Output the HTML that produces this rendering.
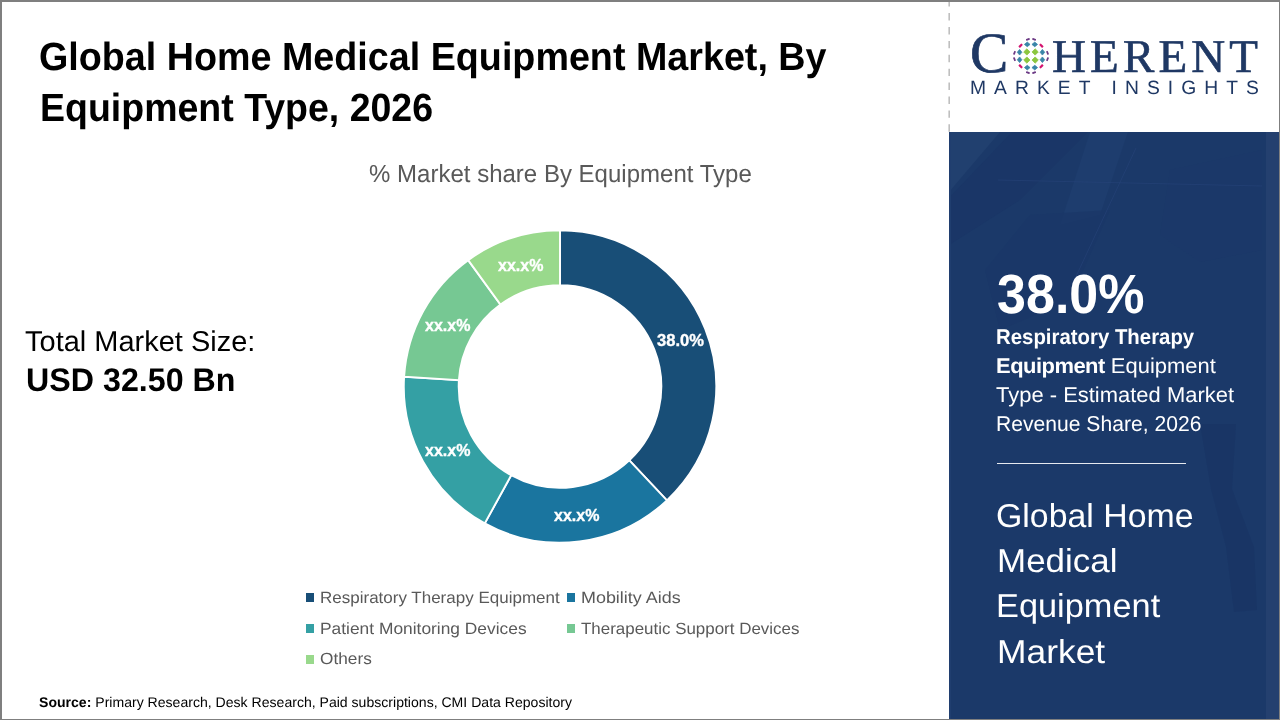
<!DOCTYPE html>
<html lang="en">
<head>
<meta charset="utf-8">
<title>Global Home Medical Equipment Market, By Equipment Type, 2026</title>
<style>
html,body{margin:0;padding:0;}
body{width:1280px;height:720px;overflow:hidden;background:#fff;position:relative;font-family:"Liberation Sans",sans-serif;}
.abs{position:absolute;white-space:nowrap;line-height:1;transform-origin:0 0;}
#frame{position:absolute;left:0;top:0;width:1280px;height:720px;box-sizing:border-box;border-left:2px solid #7f7f7f;border-top:2px solid #7f7f7f;border-bottom:1px solid #7f7f7f;border-right:1px solid #7f7f7f;z-index:20;pointer-events:none;}
#panel{position:absolute;left:949px;top:132px;width:331px;height:588px;background:#1b3969;overflow:hidden;}
.t1{font-weight:bold;color:#000;}
.ct{color:#595959;}
.lg{color:#595959;}
.mk{position:absolute;width:8px;height:8.5px;}
.dl{font-weight:bold;color:#fff;-webkit-text-stroke:0.35px #fff;}
.w{color:#fff;}
</style>
</head>
<body>
<div id="panel"><svg width="331" height="588" viewBox="949 132 331 588" style="position:absolute;left:0;top:0">
<rect x="949" y="132" width="331" height="588" fill="#1b3969"/>
<path d="M949 132L1000 132L949 192Z" fill="#21406f"/>
<path d="M1012 132L1088 132L1020 200L949 245L949 198Z" fill="#1a3667"/>
<path d="M1090 132L1128 132L1100 215L1060 225Z" fill="#1e3d6e"/>
<path d="M1030 215L1110 210L1070 300L1000 330L985 270Z" fill="#1a3768" opacity="0.8"/>
<path d="M1170 170L1262 150L1262 250L1200 262L1160 235Z" fill="#1b3869" opacity="0.8"/>
<path d="M998 180L1262 186" stroke="#27457a" stroke-width="0.8" opacity="0.7" fill="none"/>
<path d="M1136 148L1072 285" stroke="#27457a" stroke-width="0.8" opacity="0.7" fill="none"/>
<path d="M1200 424L1236 424L1232 489L1254 547L1257 610L1234 612L1226 547L1211 489Z" fill="#193565" opacity="0.85"/>
<rect x="949" y="132" width="2" height="588" fill="#203e6f"/>
<rect x="1266" y="132" width="14" height="588" fill="#24406f"/>
</svg></div>

<!-- dashed separator -->
<svg style="position:absolute;left:947px;top:0" width="4" height="133"><line x1="2.2" y1="-0.8" x2="2.2" y2="132" stroke="#bfbfbf" stroke-width="1.6" stroke-dasharray="7.4 6.5"/></svg>

<!-- Title -->
<div class="abs t1" id="t1a" style="left:39px;top:37px;transform:skewX(0.05deg) scaleX(0.9569);font-size:39.4px;">Global Home Medical Equipment Market, By</div>
<div class="abs t1" id="t1b" style="left:40px;top:88px;transform:skewX(0.05deg) scaleX(0.9517);font-size:39.4px;">Equipment Type, 2026</div>

<!-- chart title -->
<div class="abs ct" id="ct" style="left:369px;top:162px;transform:skewX(0.05deg) scaleX(0.9730);font-size:24.7px;">% Market share By Equipment Type</div>

<!-- total market size -->
<div class="abs" id="tm1" style="left:25px;top:327px;font-size:28.6px;color:#000;transform:skewX(0.05deg) scaleX(1.0136);">Total Market Size:</div>
<div class="abs" id="tm2" style="left:26px;top:364px;font-size:32.7px;font-weight:bold;color:#000;transform:skewX(0.05deg) scaleX(0.9857);">USD 32.50 Bn</div>

<!-- donut -->
<svg id="donut" style="position:absolute;left:400px;top:226px" width="320" height="320" viewBox="400 226 320 320">
<path d="M560.00 230.30A156.2 156.2 0 0 1 666.93 500.36L629.34 460.34A101.3 101.3 0 0 0 560.00 285.20Z" fill="#184e77" stroke="#fff" stroke-width="1.9" stroke-linejoin="miter"/>
<path d="M666.93 500.36A156.2 156.2 0 0 1 484.75 523.38L511.20 475.27A101.3 101.3 0 0 0 629.34 460.34Z" fill="#1a759f" stroke="#fff" stroke-width="1.9" stroke-linejoin="miter"/>
<path d="M484.75 523.38A156.2 156.2 0 0 1 404.11 376.69L458.90 380.14A101.3 101.3 0 0 0 511.20 475.27Z" fill="#34a0a4" stroke="#fff" stroke-width="1.9" stroke-linejoin="miter"/>
<path d="M404.11 376.69A156.2 156.2 0 0 1 468.19 260.13L500.46 304.55A101.3 101.3 0 0 0 458.90 380.14Z" fill="#76c893" stroke="#fff" stroke-width="1.9" stroke-linejoin="miter"/>
<path d="M468.19 260.13A156.2 156.2 0 0 1 560.00 230.30L560.00 285.20A101.3 101.3 0 0 0 500.46 304.55Z" fill="#99d98c" stroke="#fff" stroke-width="1.9" stroke-linejoin="miter"/>
</svg>

<!-- donut labels -->
<div class="abs dl" id="d1" style="left:657px;top:333px;font-size:16px;transform:scaleX(1.034);">38.0%</div>
<div class="abs dl" id="d2" style="left:554px;top:508px;font-size:16px;">xx.x%</div>
<div class="abs dl" id="d3" style="left:425px;top:443px;font-size:16px;">xx.x%</div>
<div class="abs dl" id="d4" style="left:425px;top:318px;font-size:16px;">xx.x%</div>
<div class="abs dl" id="d5" style="left:498px;top:258px;font-size:16px;">xx.x%</div>

<!-- legend -->
<div class="mk" style="left:306px;top:593.25px;background:#184e77"></div>
<div class="abs lg" id="lg1" style="left:320px;top:589px;transform:skewX(0.05deg) scaleX(1.0440);font-size:16.3px;">Respiratory Therapy Equipment</div>
<div class="mk" style="left:567px;top:593.25px;background:#1a759f"></div>
<div class="abs lg" id="lg2" style="left:581px;top:589px;transform:skewX(0.05deg) scaleX(1.1006);font-size:16.3px;">Mobility Aids</div>
<div class="mk" style="left:306px;top:624.25px;background:#34a0a4"></div>
<div class="abs lg" id="lg3" style="left:320px;top:620px;transform:skewX(0.05deg) scaleX(1.0668);font-size:16.3px;">Patient Monitoring Devices</div>
<div class="mk" style="left:567px;top:624.25px;background:#76c893"></div>
<div class="abs lg" id="lg4" style="left:581px;top:620px;transform:skewX(0.05deg) scaleX(1.0402);font-size:16.3px;">Therapeutic Support Devices</div>
<div class="mk" style="left:306px;top:655px;background:#99d98c"></div>
<div class="abs lg" id="lg5" style="left:320px;top:650px;transform:skewX(0.05deg) scaleX(1.0589);font-size:16.3px;">Others</div>

<!-- source -->
<div class="abs" id="src" style="left:39px;top:695px;font-size:14px;color:#000;transform:skewX(0.05deg) scaleX(1.0044);"><b>Source:</b> Primary Research, Desk Research, Paid subscriptions, CMI Data Repository</div>

<!-- logo -->
<svg id="emblem" style="position:absolute;left:1010.5px;top:36.2px" width="40" height="40" viewBox="-20 -20 40 40">
<path d="M-7.30 -4.05L-4.15 -7.20L-1.00 -4.05L-4.15 -0.90Z" fill="#8cc63f" stroke="#8cc63f" stroke-width="0.8" stroke-linejoin="round"/>
<path d="M-6.55 -11.60L-3.75 -13.90L-0.95 -11.60L-3.75 -9.30Z" fill="#3a85a8" stroke="#3a85a8" stroke-width="0.8" stroke-linejoin="round"/>
<path d="M-13.70 -3.75L-11.40 -6.55L-9.10 -3.75L-11.40 -0.95Z" fill="#3a85a8" stroke="#3a85a8" stroke-width="0.8" stroke-linejoin="round"/>
<rect x="-2.15" y="-1.10" width="4.30" height="2.20" rx="0.5" fill="#d4146f" transform="translate(-10.40 -10.30) rotate(-45)"/>
<rect x="-1.90" y="-0.90" width="3.80" height="1.80" rx="0.5" fill="#6c3a85" transform="translate(-3.10 -16.60) rotate(-22)"/>
<rect x="-1.90" y="-0.90" width="3.80" height="1.80" rx="0.5" fill="#6c3a85" transform="translate(-16.50 -3.20) rotate(-68)"/>
<path d="M-7.30 4.05L-4.15 0.90L-1.00 4.05L-4.15 7.20Z" fill="#8cc63f" stroke="#8cc63f" stroke-width="0.8" stroke-linejoin="round"/>
<path d="M-6.55 11.60L-3.75 9.30L-0.95 11.60L-3.75 13.90Z" fill="#3a85a8" stroke="#3a85a8" stroke-width="0.8" stroke-linejoin="round"/>
<path d="M-13.70 3.75L-11.40 0.95L-9.10 3.75L-11.40 6.55Z" fill="#3a85a8" stroke="#3a85a8" stroke-width="0.8" stroke-linejoin="round"/>
<rect x="-2.15" y="-1.10" width="4.30" height="2.20" rx="0.5" fill="#d4146f" transform="translate(-10.40 10.30) rotate(45)"/>
<rect x="-1.90" y="-0.90" width="3.80" height="1.80" rx="0.5" fill="#6c3a85" transform="translate(-3.10 16.60) rotate(22)"/>
<rect x="-1.90" y="-0.90" width="3.80" height="1.80" rx="0.5" fill="#6c3a85" transform="translate(-16.50 3.20) rotate(68)"/>
<path d="M1.00 -4.05L4.15 -7.20L7.30 -4.05L4.15 -0.90Z" fill="#8cc63f" stroke="#8cc63f" stroke-width="0.8" stroke-linejoin="round"/>
<path d="M0.95 -11.60L3.75 -13.90L6.55 -11.60L3.75 -9.30Z" fill="#3a85a8" stroke="#3a85a8" stroke-width="0.8" stroke-linejoin="round"/>
<path d="M9.10 -3.75L11.40 -6.55L13.70 -3.75L11.40 -0.95Z" fill="#3a85a8" stroke="#3a85a8" stroke-width="0.8" stroke-linejoin="round"/>
<rect x="-2.15" y="-1.10" width="4.30" height="2.20" rx="0.5" fill="#d4146f" transform="translate(10.40 -10.30) rotate(45)"/>
<rect x="-1.90" y="-0.90" width="3.80" height="1.80" rx="0.5" fill="#6c3a85" transform="translate(3.10 -16.60) rotate(22)"/>
<rect x="-1.90" y="-0.90" width="3.80" height="1.80" rx="0.5" fill="#6c3a85" transform="translate(16.50 -3.20) rotate(68)"/>
<path d="M1.00 4.05L4.15 0.90L7.30 4.05L4.15 7.20Z" fill="#8cc63f" stroke="#8cc63f" stroke-width="0.8" stroke-linejoin="round"/>
<path d="M0.95 11.60L3.75 9.30L6.55 11.60L3.75 13.90Z" fill="#3a85a8" stroke="#3a85a8" stroke-width="0.8" stroke-linejoin="round"/>
<path d="M9.10 3.75L11.40 0.95L13.70 3.75L11.40 6.55Z" fill="#3a85a8" stroke="#3a85a8" stroke-width="0.8" stroke-linejoin="round"/>
<rect x="-2.15" y="-1.10" width="4.30" height="2.20" rx="0.5" fill="#d4146f" transform="translate(10.40 10.30) rotate(-45)"/>
<rect x="-1.90" y="-0.90" width="3.80" height="1.80" rx="0.5" fill="#6c3a85" transform="translate(3.10 16.60) rotate(-22)"/>
<rect x="-1.90" y="-0.90" width="3.80" height="1.80" rx="0.5" fill="#6c3a85" transform="translate(16.50 3.20) rotate(-68)"/>
</svg>

<div class="abs" id="logoC" style="left:970px;top:24px;font-family:'Liberation Serif',serif;font-size:57px;color:#1f3864;-webkit-text-stroke:0.7px #1f3864;transform:skewX(0.05deg) scaleX(1.0072);">C</div>
<div class="abs" id="logoH" style="left:1052px;top:33px;font-family:'Liberation Serif',serif;font-size:47px;color:#1f3864;-webkit-text-stroke:0.6px #1f3864;letter-spacing:4.12px;transform:skewX(0.05deg);">HERENT</div>
<div class="abs" id="logoM" style="left:970px;top:78px;font-size:19.3px;color:#1f3864;letter-spacing:8.03px;transform:skewX(0.05deg);">MARKET INSIGHTS</div>

<!-- panel text -->
<div class="abs w" id="p38" style="left:997px;top:267px;font-size:55.2px;font-weight:bold;transform:skewX(0.05deg) scaleX(0.9427);">38.0%</div>
<div class="abs w" id="pl1" style="left:996px;top:327px;font-size:21.4px;font-weight:bold;transform:skewX(0.05deg) scaleX(0.9525);">Respiratory Therapy</div>
<div class="abs w" id="pl2" style="left:996px;top:356px;font-size:21.4px;transform:skewX(0.05deg) scaleX(1.0259);"><b style="letter-spacing:-0.5px">Equipment</b> Equipment</div>
<div class="abs w" id="pl3" style="left:996px;top:385px;font-size:21.4px;transform:skewX(0.05deg) scaleX(1.0267);">Type - Estimated Market</div>
<div class="abs w" id="pl4" style="left:996px;top:414px;font-size:21.4px;transform:skewX(0.05deg) scaleX(0.9868);">Revenue Share, 2026</div>
<div style="position:absolute;left:997px;top:463px;width:188.5px;height:1px;background:#e6e9ef;"></div>
<div class="abs w" id="pg1" style="left:996px;top:499px;font-size:33.1px;transform:skewX(0.05deg) scaleX(1.0230);">Global Home</div>
<div class="abs w" id="pg2" style="left:997px;top:544px;font-size:33.1px;transform:skewX(0.05deg) scaleX(1.0565);">Medical</div>
<div class="abs w" id="pg3" style="left:996px;top:589px;font-size:33.1px;transform:skewX(0.05deg) scaleX(1.0380);">Equipment</div>
<div class="abs w" id="pg4" style="left:997px;top:635px;font-size:33.1px;transform:skewX(0.05deg) scaleX(1.0698);">Market</div>

<div id="frame"></div>
</body>
</html>
